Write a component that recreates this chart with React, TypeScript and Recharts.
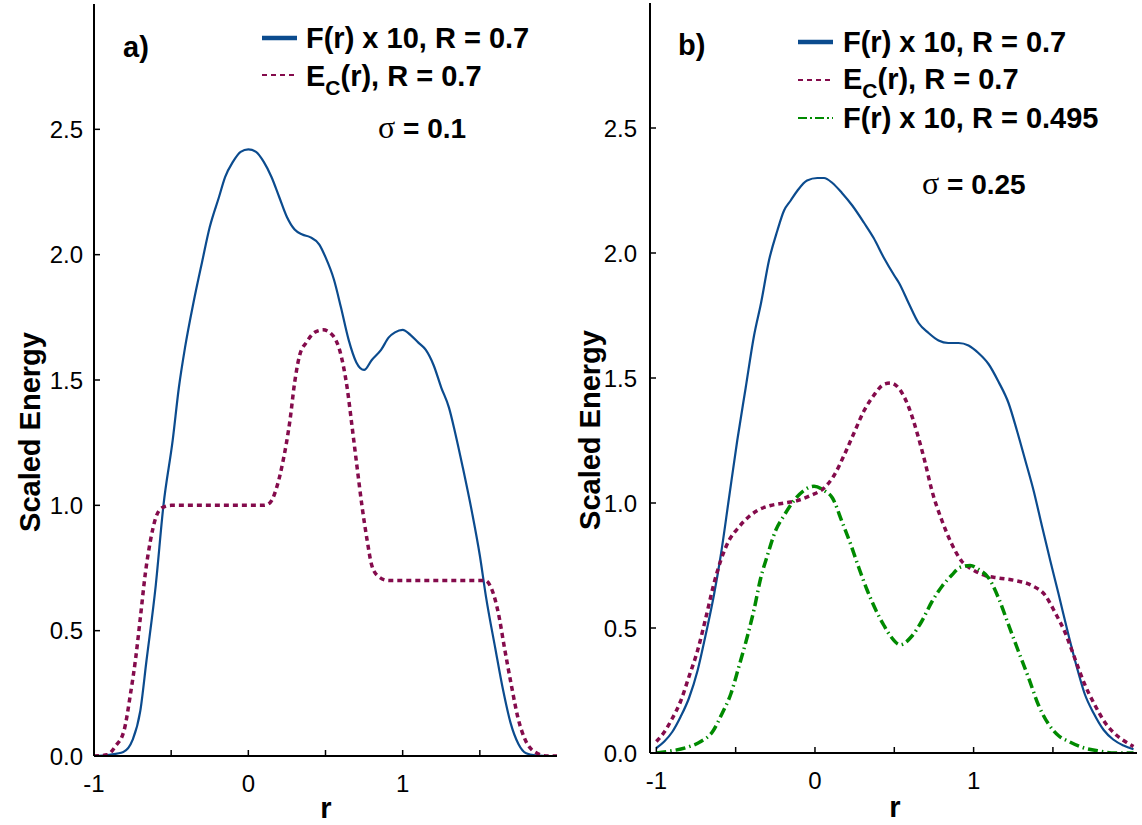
import React from 'react';
import { LineChart, Line, XAxis, YAxis } from 'recharts';

// panel a) sigma = 0.1
const rFa = [-1, -0.9, -0.81, -0.75, -0.7, -0.66, -0.6, -0.55, -0.49, -0.45, -0.41, -0.355, -0.3, -0.25, -0.19, -0.15, -0.1, -0.05, 0, 0.05, 0.1, 0.15, 0.2, 0.25, 0.3, 0.35, 0.4, 0.46, 0.5, 0.555, 0.6, 0.65, 0.7, 0.75, 0.8, 0.86, 0.91, 0.95, 1.0, 1.05, 1.1, 1.15, 1.2, 1.25, 1.3, 1.34, 1.39, 1.45, 1.5, 1.54, 1.6, 1.65, 1.7, 1.75, 1.8, 1.86, 1.96, 2.0];
const fA = [0, 0.005, 0.016, 0.064, 0.18, 0.38, 0.68, 1.0, 1.26, 1.47, 1.63, 1.81, 1.97, 2.11, 2.23, 2.31, 2.37, 2.41, 2.42, 2.41, 2.37, 2.31, 2.23, 2.15, 2.1, 2.08, 2.07, 2.04, 1.99, 1.9, 1.79, 1.66, 1.57, 1.54, 1.58, 1.62, 1.67, 1.69, 1.7, 1.68, 1.65, 1.62, 1.56, 1.47, 1.39, 1.29, 1.15, 0.97, 0.8, 0.635, 0.43, 0.265, 0.13, 0.048, 0.011, 0.003, 0, 0];

const rEa = [-1, -0.914, -0.86, -0.806, -0.763, -0.73, -0.7, -0.667, -0.634, -0.6, -0.56, -0.5, 0.0, 0.1, 0.14, 0.183, 0.226, 0.27, 0.3, 0.333, 0.376, 0.43, 0.484, 0.544, 0.6, 0.64, 0.673, 0.705, 0.738, 0.77, 0.8, 0.845, 0.91, 1.2, 1.533, 1.576, 1.62, 1.66, 1.705, 1.748, 1.79, 1.856, 1.94, 2.0];
const eA = [0, 0.005, 0.04, 0.1, 0.25, 0.39, 0.55, 0.73, 0.86, 0.95, 0.99, 1.0, 1.0, 1.0, 1.01, 1.07, 1.18, 1.34, 1.49, 1.6, 1.65, 1.69, 1.7, 1.68, 1.6, 1.47, 1.31, 1.15, 0.99, 0.86, 0.76, 0.715, 0.7, 0.7, 0.7, 0.667, 0.57, 0.43, 0.28, 0.15, 0.07, 0.016, 0, 0];

// panel b) sigma = 0.25
const rFb = [-1.0, -0.95, -0.9, -0.847, -0.794, -0.74, -0.69, -0.636, -0.594, -0.542, -0.49, -0.437, -0.384, -0.34, -0.29, -0.237, -0.195, -0.153, -0.11, -0.05, 0.015, 0.057, 0.11, 0.17, 0.235, 0.31, 0.37, 0.435, 0.5, 0.53, 0.59, 0.653, 0.716, 0.779, 0.84, 0.905, 0.968, 1.03, 1.095, 1.157, 1.22, 1.273, 1.326, 1.378, 1.43, 1.483, 1.536, 1.6, 1.65, 1.7, 1.756, 1.82, 1.88, 1.945, 2.008];
const fB = [0.02, 0.046, 0.084, 0.145, 0.22, 0.33, 0.47, 0.635, 0.79, 1.02, 1.25, 1.46, 1.67, 1.8, 1.97, 2.09, 2.17, 2.21, 2.25, 2.29, 2.3, 2.3, 2.28, 2.24, 2.19, 2.12, 2.06, 1.98, 1.91, 1.88, 1.8, 1.72, 1.68, 1.65, 1.64, 1.64, 1.63, 1.6, 1.555, 1.485, 1.4, 1.29, 1.17, 1.05, 0.91, 0.77, 0.635, 0.467, 0.345, 0.237, 0.16, 0.092, 0.054, 0.03, 0.015];

const rEb = [-1.0, -0.95, -0.9, -0.847, -0.794, -0.74, -0.69, -0.636, -0.594, -0.542, -0.49, -0.426, -0.363, -0.28, -0.195, -0.11, -0.027, 0.057, 0.12, 0.183, 0.246, 0.31, 0.37, 0.435, 0.477, 0.527, 0.59, 0.653, 0.695, 0.737, 0.8, 0.863, 0.926, 0.99, 1.073, 1.157, 1.262, 1.368, 1.452, 1.515, 1.578, 1.64, 1.7, 1.766, 1.83, 1.89, 1.955, 2.008];
const eB = [0.046, 0.084, 0.138, 0.207, 0.306, 0.41, 0.536, 0.68, 0.77, 0.85, 0.896, 0.94, 0.97, 0.99, 1.0, 1.01, 1.03, 1.06, 1.11, 1.19, 1.28, 1.37, 1.43, 1.475, 1.48, 1.46, 1.385, 1.26, 1.16, 1.05, 0.93, 0.835, 0.766, 0.735, 0.71, 0.7, 0.69, 0.67, 0.63, 0.56, 0.48, 0.375, 0.275, 0.19, 0.12, 0.077, 0.046, 0.026];

const rGb = [-1.0, -0.91, -0.805, -0.72, -0.647, -0.584, -0.53, -0.48, -0.426, -0.384, -0.342, -0.3, -0.248, -0.195, -0.132, -0.07, -0.006, 0.057, 0.11, 0.17, 0.225, 0.277, 0.33, 0.382, 0.435, 0.477, 0.538, 0.61, 0.674, 0.737, 0.8, 0.863, 0.916, 0.979, 1.03, 1.095, 1.157, 1.22, 1.283, 1.347, 1.41, 1.473, 1.536, 1.6, 1.683, 1.788, 1.893, 2.008];
const gB = [0.0, 0.008, 0.023, 0.046, 0.084, 0.16, 0.237, 0.345, 0.467, 0.574, 0.7, 0.79, 0.89, 0.95, 1.01, 1.05, 1.067, 1.05, 1.02, 0.926, 0.835, 0.74, 0.65, 0.574, 0.51, 0.467, 0.433, 0.467, 0.528, 0.605, 0.666, 0.712, 0.743, 0.75, 0.735, 0.7, 0.62, 0.513, 0.406, 0.3, 0.19, 0.115, 0.069, 0.046, 0.023, 0.008, 0, 0];

const xTicks = [-1, -0.5, 0, 0.5, 1, 1.5];
const yTicks = [0, 0.5, 1, 1.5, 2, 2.5];

const BLUE = '#0b4b8e';
const PURPLE = '#840b4c';
const GREEN = '#008a00';
const FONT = '"Liberation Sans", Arial, sans-serif';

const pts = (xs: number[], ys: number[]) => xs.map((r, i) => ({ r, v: ys[i] }));

const noTick = () => <g />;

const axisLine = { stroke: '#000', strokeWidth: 2 };
const tickFont = { fill: '#000', fontSize: 24, fontFamily: FONT };

interface PanelProps {
  width: number;
  domain: [number, number];
  margin: { top: number; right: number; bottom: number; left: number };
  yWidth: number;
  xHeight: number;
  yTickMargin: number;
  children: React.ReactNode;
}

const Panel = ({ width, domain, margin, yWidth, xHeight, yTickMargin, children }: PanelProps) => (
  <LineChart width={width} height={825} margin={margin}>
    <XAxis
      dataKey="r"
      type="number"
      domain={domain}
      allowDataOverflow
      ticks={xTicks}
      interval={0}
      tickFormatter={(v: number) => (Number.isInteger(v) ? String(v) : '')}
      height={xHeight}
      tickSize={-6}
      tickMargin={25}
      axisLine={axisLine}
      tickLine={{ stroke: '#000', strokeWidth: 1.5 }}
      tick={tickFont}
    />
    <XAxis xAxisId="top" orientation="top" dataKey="r" type="number" domain={domain} allowDataOverflow height={0} axisLine={axisLine} tickLine={false} tick={false} />
    <YAxis
      domain={[0, 3]}
      ticks={yTicks}
      interval={0}
      allowDataOverflow
      tickFormatter={(v: number) => v.toFixed(1)}
      width={yWidth}
      tickSize={-6}
      tickMargin={yTickMargin}
      axisLine={axisLine}
      tickLine={{ stroke: '#000', strokeWidth: 1.5 }}
      tick={tickFont}
    />
    <YAxis yAxisId="right" orientation="right" domain={[0, 3]} ticks={yTicks} interval={0} width={0} tickSize={-6} axisLine={axisLine} tickLine={{ stroke: '#000', strokeWidth: 1.5 }} tick={noTick} />
    {children}
  </LineChart>
);

const Title = ({ x, y, size = 29, children }: { x: number; y: number; size?: number; children: React.ReactNode }) => (
  <text x={x} y={y} fontFamily={FONT} fontWeight="bold" fontSize={size} fill="#000">
    {children}
  </text>
);

const Ec = ({ x, y }: { x: number; y: number }) => (
  <text x={x} y={y} fontFamily={FONT} fontWeight="bold" fontSize={29} fill="#000">
    E<tspan fontSize={21} dy={9}>C</tspan>
    <tspan dy={-9}>(r), R = 0.7</tspan>
  </text>
);

const Sigma = ({ x, y, value }: { x: number; y: number; value: string }) => (
  <text x={x} y={y} fontFamily={FONT} fontWeight="bold" fontSize={28} fill="#000">
    <tspan fontFamily='"Liberation Serif", serif' fontWeight="normal" fontSize={32}>σ</tspan>
    {` = ${value}`}
  </text>
);

export default function App() {
  return (
    <div style={{ position: 'absolute', left: 0, top: 0, width: 1142, height: 825, background: '#fff', overflow: 'hidden' }}>
      <div style={{ position: 'absolute', left: 0, top: 0 }}>
        <Panel width={600} domain={[-1, 2]} margin={{ top: 4, right: 43, bottom: 0, left: 0 }} yWidth={94} xHeight={69} yTickMargin={17}>
          <Line data={pts(rFa, fA)} dataKey="v" type="monotone" stroke={BLUE} strokeWidth={2.2} dot={false} isAnimationActive={false} />
          <Line data={pts(rEa, eA)} dataKey="v" type="monotone" stroke={PURPLE} strokeWidth={3.5} strokeDasharray="5 4" dot={false} isAnimationActive={false} />
        </Panel>
      </div>
      <div style={{ position: 'absolute', left: 560, top: 0 }}>
        <Panel width={582} domain={[-1.04, 2.03]} margin={{ top: 3, right: 5, bottom: 0, left: 0 }} yWidth={90} xHeight={72} yTickMargin={19}>
          <Line data={pts(rFb, fB)} dataKey="v" type="monotone" stroke={BLUE} strokeWidth={2.2} dot={false} isAnimationActive={false} />
          <Line data={pts(rEb, eB)} dataKey="v" type="monotone" stroke={PURPLE} strokeWidth={3.5} strokeDasharray="5 4" dot={false} isAnimationActive={false} />
          <Line data={pts(rGb, gB)} dataKey="v" type="monotone" stroke={GREEN} strokeWidth={3.5} strokeDasharray="10 4 1.5 4" dot={false} isAnimationActive={false} />
        </Panel>
      </div>
      <svg width={1142} height={825} style={{ position: 'absolute', left: 0, top: 0, pointerEvents: 'none' }}>
        {/* panel a annotations */}
        <Title x={123} y={57}>a)</Title>
        <line x1={262} x2={297} y1={38} y2={38} stroke={BLUE} strokeWidth={4.5} />
        <Title x={306} y={48}>F(r) x 10, R = 0.7</Title>
        <line x1={262} x2={297} y1={75} y2={75} stroke={PURPLE} strokeWidth={2} strokeDasharray="5 4" />
        <Ec x={306} y={86} />
        <Sigma x={378} y={138} value="0.1" />
        <text x={40} y={432} transform="rotate(-90 40 432)" textAnchor="middle" fontFamily={FONT} fontWeight="bold" fontSize={29}>Scaled Energy</text>
        <text x={326} y={818} textAnchor="middle" fontFamily={FONT} fontWeight="bold" fontSize={29}>r</text>

        {/* panel b annotations */}
        <Title x={678} y={55}>b)</Title>
        <line x1={798} x2={833} y1={42} y2={42} stroke={BLUE} strokeWidth={4.5} />
        <Title x={843} y={52}>F(r) x 10, R = 0.7</Title>
        <line x1={798} x2={833} y1={80} y2={80} stroke={PURPLE} strokeWidth={2} strokeDasharray="5 4" />
        <Ec x={843} y={89} />
        <line x1={798} x2={833} y1={118} y2={118} stroke={GREEN} strokeWidth={2} strokeDasharray="9 3 2 3" />
        <Title x={843} y={128}>F(r) x 10, R = 0.495</Title>
        <Sigma x={922} y={194} value="0.25" />
        <text x={600} y={430} transform="rotate(-90 600 430)" textAnchor="middle" fontFamily={FONT} fontWeight="bold" fontSize={29}>Scaled Energy</text>
        <text x={895} y={817} textAnchor="middle" fontFamily={FONT} fontWeight="bold" fontSize={29}>r</text>
      </svg>
    </div>
  );
}
